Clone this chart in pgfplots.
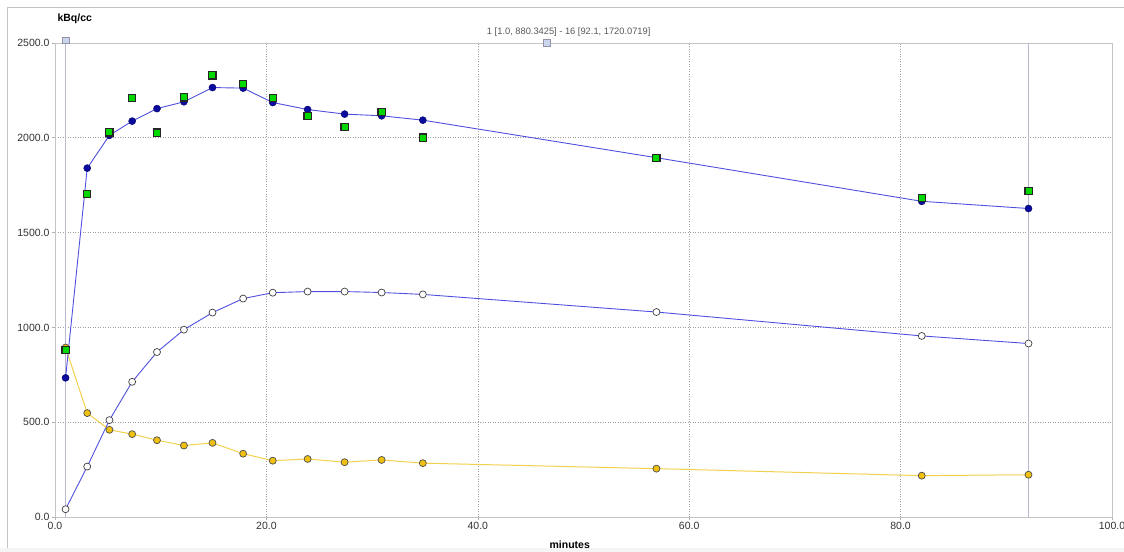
\documentclass[border=0pt]{standalone}
\usepackage{pgfplots}
\pgfplotsset{compat=1.18}
\usepackage{fontspec}
\setmainfont{Liberation Sans}
\definecolor{linblue}{HTML}{5050E0}
\definecolor{dotblue}{HTML}{0A0A9E}
\definecolor{linyel}{HTML}{F3D14E}
\definecolor{dotyel}{HTML}{F0C010}
\definecolor{sqgreen}{HTML}{00D800}
\definecolor{cursor}{HTML}{B8B8D0}
\definecolor{handle}{HTML}{C9D6EE}
\definecolor{framegray}{HTML}{C4C4C4}
\begin{document}
\begin{tikzpicture}
\useasboundingbox (0,0) rectangle (1124bp,552bp);
\fill[white] (0,0) rectangle (1124bp,552bp);
\fill[gray!8] (0,0) rectangle (1124bp,4bp);
\draw[framegray, line width=0.8bp] (7bp,4bp) -- (7bp,545bp) -- (1130bp,545bp);
\begin{axis}[
  at={(55bp,35bp)}, anchor=south west,
  scale only axis, width=1057bp, height=474bp,
  xmin=0, xmax=100, ymin=0, ymax=2500,
  xtick={0,20,...,100}, ytick={0,500,...,2500},
  xtick pos=bottom, ytick pos=left,
  tick align=outside, major tick length=3bp,
  tick style={gray!60, line width=0.6bp},
  axis line style={framegray, line width=0.8bp},
  grid=major,
  major grid style={gray!75, line width=0.6bp, dash pattern=on 1bp off 1.5bp},
  /pgf/number format/.cd, fixed, fixed zerofill, precision=1, 1000 sep={}, assume math mode=true,
  /pgfplots/.cd,
  tick label style={font=\fontsize{10.5bp}{12bp}\selectfont, text=black!80},
  yticklabel style={xshift=1bp},
  xticklabel style={yshift=1bp},
  xlabel={\textbf{minutes}},
  xlabel style={font=\fontsize{10.5bp}{12bp}\selectfont, at={(rel axis cs:0.487,0)}, anchor=center, yshift=-28bp},
  ylabel={\textbf{kBq/cc}},
  ylabel style={font=\fontsize{10.5bp}{12bp}\selectfont, rotate=-90, at={(rel axis cs:0,1)}, anchor=west, yshift=24bp, xshift=-1bp},
  clip=false,
]
% cursor lines
\addplot[cursor, line width=1.8bp, mark=none] coordinates {(1.0,0) (1.0,2500)};
\addplot[cursor, line width=1.8bp, mark=none] coordinates {(92.1,0) (92.1,2500)};
\addplot[only marks, mark=square*, mark size=3.3bp, mark options={fill=handle, draw=cursor!80!black, line width=0.6bp}] coordinates {(1.0,2515) (46.55,2500)};
% tissue curve (white circles)
\addplot[linblue, line width=0.9bp, mark=*, mark size=3.5bp, mark options={fill=white, draw=black!75, line width=0.7bp}] coordinates {
(1.0,41) (3.05,266) (5.15,511) (7.3,713) (9.65,870) (12.2,988) (14.9,1078) (17.8,1152) (20.6,1183) (23.9,1189) (27.4,1189) (30.9,1184) (34.8,1174) (56.9,1081) (82.0,955) (92.1,915)};
% yellow curve
\addplot[linyel, line width=1.0bp, mark=*, mark size=3.5bp, mark options={fill=dotyel, draw=black!70, line width=0.7bp}] coordinates {
(1.0,894) (3.05,548) (5.15,460) (7.3,437) (9.65,405) (12.2,377) (14.9,391) (17.8,334) (20.6,297) (23.9,306) (27.4,289) (30.9,301) (34.8,284) (56.9,255) (82.0,218) (92.1,223)};
% blue fitted curve
\addplot[linblue, line width=0.9bp, mark=*, mark size=3.5bp, mark options={fill=dotblue, draw=dotblue!70!black, line width=0.5bp}] coordinates {
(1.0,734) (3.05,1840) (5.15,2013) (7.3,2088) (9.65,2154) (12.2,2190) (14.9,2265) (17.8,2262) (20.6,2186) (23.9,2149) (27.4,2125) (30.9,2116) (34.8,2093) (56.9,1895) (82.0,1665) (92.1,1627)};
% measured green squares
\addplot[only marks, mark=square*, mark size=3.6bp, mark options={fill=sqgreen, draw=black!85, line width=1.2bp}] coordinates {
(1.0,880) (3.05,1705) (5.15,2028) (7.3,2211) (9.65,2027) (12.2,2213) (14.9,2329) (17.8,2284) (20.6,2209) (23.9,2116) (27.4,2056) (30.9,2135) (34.8,2001) (56.9,1893) (82.0,1681) (92.1,1720)};
\node[font=\fontsize{9.3bp}{11bp}\selectfont, text=black!65, anchor=center] at (rel axis cs:0.486,1) [yshift=11bp] {1 [1.0, 880.3425] - 16 [92.1, 1720.0719]};
\end{axis}
\end{tikzpicture}
\end{document}
